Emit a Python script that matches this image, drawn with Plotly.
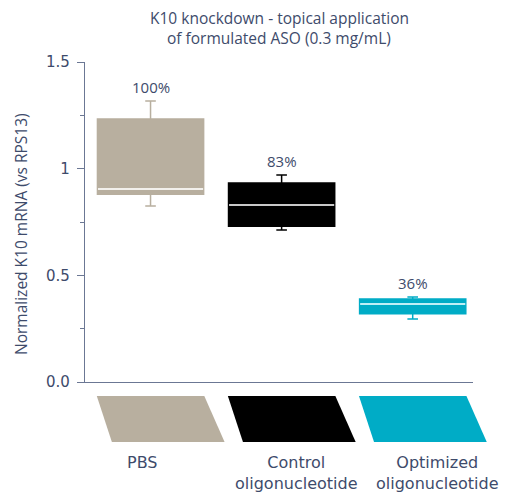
import plotly.graph_objects as go

# ---- data ----
categories = ["PBS", "Control<br>oligonucleotide", "Optimized<br>oligonucleotide"]
q1_vals = [0.88, 0.73, 0.32]
median_vals = [0.905, 0.83, 0.366]
q3_vals = [1.233, 0.933, 0.389]
lower_whisker = [0.825, 0.713, 0.295]
upper_whisker = [1.317, 0.97, 0.398]
pct_labels = ["100%", "83%", "36%"]
fill_colors = ["#B8AF9F", "#000000", "#00ACC6"]
edge_colors = ["#B8AF9F", "#000000", "#00ACC6"]
median_colors = ["#F2F0EC", "#C8C8C8", "#BFEFF6"]
y_tickvals = [0, 0.5, 1, 1.5]
y_ticktext = ["0.0", "0.5", "1", "1.5"]
title_lines = ["K10 knockdown - topical application", "of formulated ASO (0.3 mg/mL)"]
y_title = "Normalized K10 mRNA (vs RPS13)"

TEXT = "#3E4B6B"
AXIS = "#6B7794"
BW = 0.81
X_RANGE = [-0.5, 2.46]
x_pos = list(range(len(categories)))

# figure geometry (page has an 8px body margin)
W, H = 510, 490
ML, MR, MT, MB = 77, 45, 54, 116
PH = H - MT - MB
PW = W - ML - MR

def py(px_from_top):
    """figure pixel (from top) -> paper y"""
    return (H - MB - px_from_top) / PH

def pxx(px_from_left):
    return (px_from_left - ML) / PW

def data_to_paper_x(xv):
    return (xv - X_RANGE[0]) / (X_RANGE[1] - X_RANGE[0])

fig = go.Figure()
for i in x_pos:
    fig.add_trace(go.Box(
        x=[i], q1=[q1_vals[i]], median=[median_vals[i]], q3=[q3_vals[i]],
        lowerfence=[lower_whisker[i]], upperfence=[upper_whisker[i]],
        width=BW, whiskerwidth=0.1, fillcolor=fill_colors[i],
        line=dict(color=edge_colors[i], width=1.5),
        boxpoints=False, showlegend=False, hoverinfo="skip"))
    fig.add_trace(go.Scatter(
        x=[i - BW / 2 + 0.004, i + BW / 2 - 0.004], y=[median_vals[i], median_vals[i]],
        mode="lines", line=dict(color=median_colors[i], width=2),
        showlegend=False, hoverinfo="skip"))
    fig.add_annotation(x=i, y=upper_whisker[i], text=pct_labels[i], showarrow=False,
                       yanchor="bottom", yshift=2, font=dict(family="Open Sans", size=15, color=TEXT))

# parallelogram swatches below the axis (paper coords so they are not clipped)
y_top, y_bot = py(388), py(434)
top_l, top_r, bot_l, bot_r = -0.41, 0.41, -0.295, 0.565
label_dx = [-0.06, 0.11, 0.19]
for i in x_pos:
    xs = [data_to_paper_x(i + v) for v in (top_l, top_r, bot_r, bot_l)]
    path = (f"M {xs[0]} {y_top} L {xs[1]} {y_top} "
            f"L {xs[2]} {y_bot} L {xs[3]} {y_bot} Z")
    fig.add_shape(type="path", path=path, xref="paper", yref="paper",
                  fillcolor=fill_colors[i], line=dict(width=0))
    fig.add_annotation(x=i + label_dx[i], y=py(443), xref="x", yref="paper",
                       text=categories[i], showarrow=False, yanchor="top",
                       font=dict(family="DejaVu Sans", size=16, color=TEXT))

# title (two lines)
for line, yc in zip(title_lines, [10, 30]):
    fig.add_annotation(x=0.5, y=py(yc), xref="paper", yref="paper", text=line,
                       showarrow=False, xanchor="center", yanchor="middle",
                       font=dict(family="Open Sans", size=15.5, color=TEXT))

# y axis title
fig.add_annotation(x=pxx(13), y=py(226), xref="paper", yref="paper", text=y_title,
                   textangle=-90, showarrow=False, xanchor="center", yanchor="middle",
                   font=dict(family="Open Sans", size=15.5, color=TEXT))

fig.update_layout(
    width=W, height=H,
    margin=dict(l=ML, r=MR, t=MT, b=MB),
    paper_bgcolor="white", plot_bgcolor="white",
    xaxis=dict(range=X_RANGE, showgrid=False, zeroline=False, showticklabels=False,
               showline=True, linecolor=AXIS, linewidth=1.2, ticks=""),
    yaxis=dict(range=[0, 1.5], tickvals=y_tickvals, ticktext=y_ticktext,
               showgrid=False, zeroline=False, showline=True, linecolor=AXIS, linewidth=1.2,
               ticks="outside", ticklen=7, tickcolor=AXIS, ticklabelstandoff=4,
               minor=dict(dtick=0.25, tick0=0, ticks="outside", ticklen=4, tickcolor=AXIS),
               tickfont=dict(family="DejaVu Sans", size=15, color=TEXT)),
)

fig.write_html("out.html")
